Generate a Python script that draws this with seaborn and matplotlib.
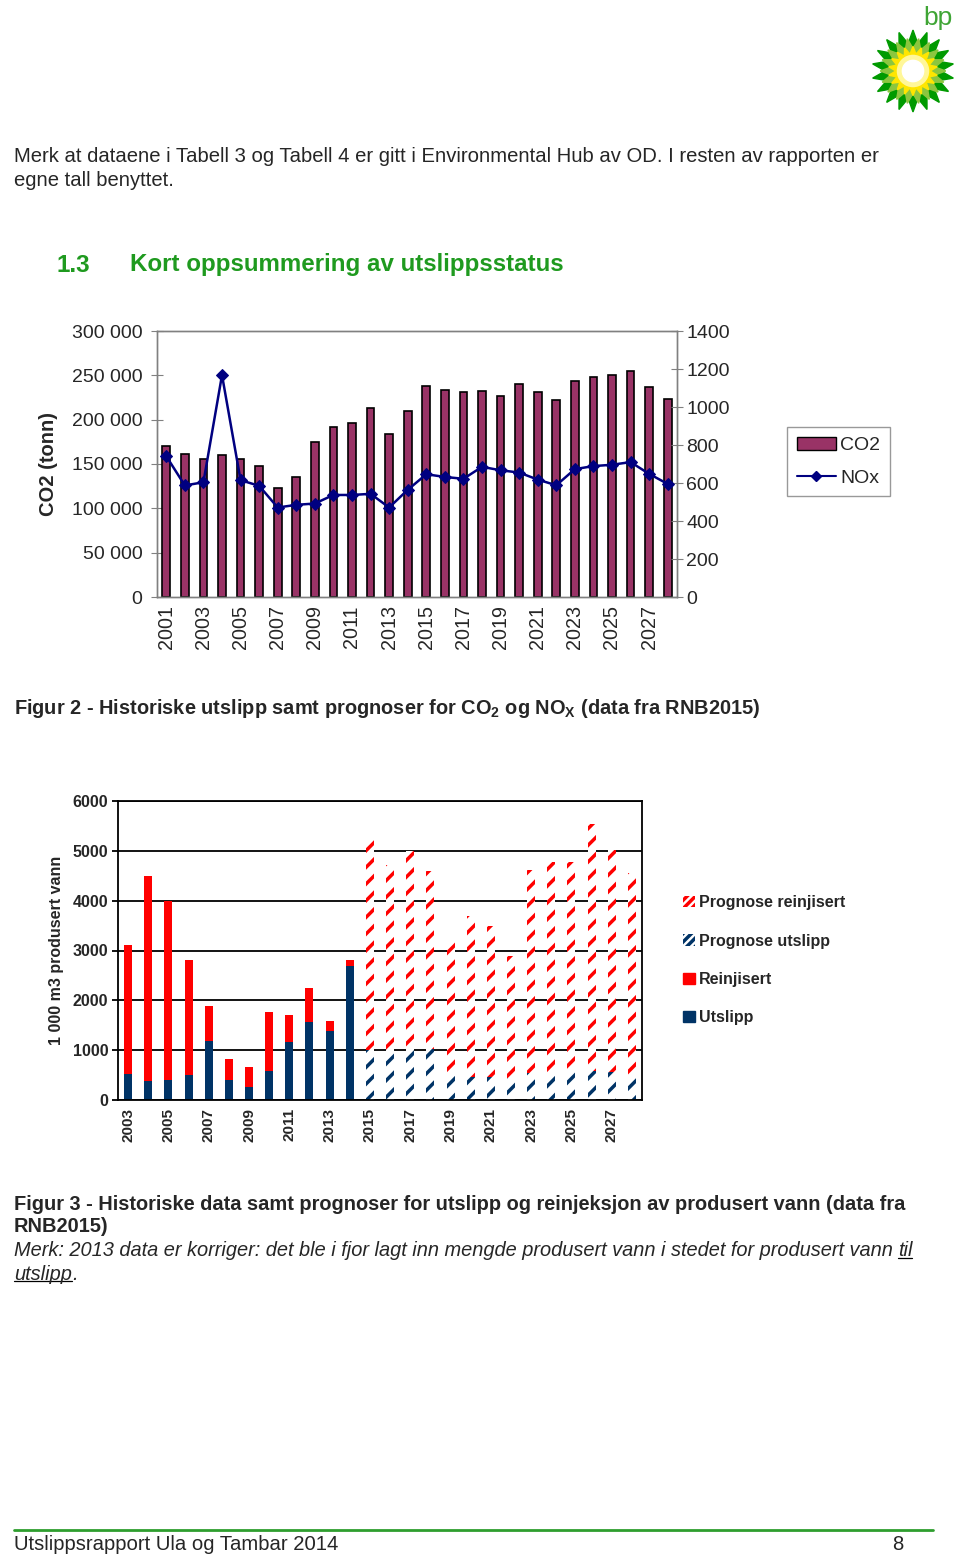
import numpy as np
import pandas as pd
import matplotlib
matplotlib.use("Agg")
import matplotlib.pyplot as plt
import seaborn as sns
from matplotlib.patches import Patch, Polygon, Circle
from matplotlib.lines import Line2D
from matplotlib.ticker import FuncFormatter, FixedLocator

sns.set_style("white")
plt.rcParams['font.family'] = ['Liberation Sans', 'DejaVu Sans']
plt.rcParams['mathtext.fontset'] = 'custom'
plt.rcParams['mathtext.rm'] = 'Liberation Sans'
plt.rcParams['mathtext.bf'] = 'Liberation Sans:bold'
plt.rcParams['hatch.linewidth'] = 2.5

# Figur 2 - CO2 og NOx
co2_years = list(range(2001, 2029))
co2_tonn = [170500, 161500, 155800, 160000, 156200, 147200, 123400, 135900, 174300, 191600,
            196100, 212600, 183700, 210000, 237500, 233000, 231100, 231800, 227000, 240100,
            230700, 221700, 243900, 248000, 250700, 254400, 237100, 223600]
nox_tonn = [741, 587, 604, 1168, 615, 585, 471, 485, 492, 537, 537, 543, 471, 564,
            646, 632, 622, 685, 667, 655, 618, 588, 673, 689, 696, 710, 648, 595]

# Figur 3 - produsert vann (1 000 m3)
vann_years = list(range(2003, 2029))
hist_years = list(range(2003, 2015))
prog_years = list(range(2015, 2029))
utslipp = [517, 383, 403, 497, 1188, 403, 262, 591, 1168, 1557, 1389, 2685]
reinjisert = [2597, 4107, 3597, 2315, 705, 429, 409, 1167, 543, 698, 188, 127]
prognose_utslipp = [1007, 960, 1040, 1020, 497, 470, 456, 436, 550, 570, 570, 584, 564, 497]
prognose_reinjisert = [4214, 3751, 3960, 3577, 2738, 3228, 3034, 2450, 4074, 4209, 4202, 4953, 4456, 4053]

GREEN = '#1f9a1f'
MAROON = '#993366'
NAVY = '#000080'
RED = '#FF0000'
DBLUE = '#003366'

W, H = 960, 1555
fig = plt.figure(figsize=(W / 100, H / 100), dpi=100)


def fx(px):
    return px / W


def fy(py):
    return 1 - py / H


# %% page text
fig.text(fx(14), fy(157), "Merk at dataene i Tabell 3 og Tabell 4 er gitt i Environmental Hub av OD. I resten av rapporten er",
         fontsize=14.6, va='center')
fig.text(fx(14), fy(181), "egne tall benyttet.", fontsize=14.6, va='center')
fig.text(fx(57), fy(265), "1.3", fontsize=17.5, fontweight='bold', color=GREEN, va='center')
fig.text(fx(130), fy(265), "Kort oppsummering av utslippsstatus", fontsize=17.4, fontweight='bold',
         color=GREEN, va='center')

# %% chart 1
ax1 = fig.add_axes([fx(157), fy(597), fx(677) - fx(157), fy(331) - fy(597)])
df1 = pd.DataFrame({'year': [str(y) for y in co2_years], 'co2': co2_tonn, 'nox': nox_tonn})
sns.barplot(data=df1, x='year', y='co2', color=MAROON, saturation=1, width=0.42,
            errorbar=None, ax=ax1)
for p in ax1.patches:
    p.set_edgecolor('black')
    p.set_linewidth(1.2)
n1 = len(co2_years)
ax1.set_xlim(-0.5, n1 - 0.5)
ax1.set_ylim(0, 300000)
ax1.set_yticks(range(0, 300001, 50000))
ax1.yaxis.set_major_formatter(FuncFormatter(lambda v, p: f"{int(v):,}".replace(",", " ")))
ax1.set_xticks(range(0, n1, 2))
ax1.set_xticklabels([str(y) for y in co2_years[::2]], rotation=90, fontsize=14.2)
ax1.xaxis.set_minor_locator(FixedLocator(np.arange(-0.5, n1, 1)))
ax1.tick_params(axis='x', which='major', length=0, pad=6)
ax1.tick_params(axis='x', which='minor', length=5, direction='out', color='#808080', width=1)
ax1.tick_params(axis='y', which='major', length=9, direction='inout', color='#808080', labelsize=14, pad=6)
ax1.set_xlabel('')
ax1.set_ylabel('CO2 (tonn)', fontsize=14.5, fontweight='bold')
ax1.yaxis.set_label_coords((58 - 157) / 520, 0.5)
for s in ax1.spines.values():
    s.set_color('#808080')
    s.set_linewidth(1)

ax1b = ax1.twinx()
sns.lineplot(x=np.arange(n1), y=nox_tonn, ax=ax1b, color=NAVY, marker='D', markersize=6,
             markeredgecolor=NAVY, linewidth=1.8)
ax1b.set_ylim(0, 1400)
ax1b.set_yticks(range(0, 1401, 200))
ax1b.tick_params(axis='y', length=9, direction='inout', color='#808080', labelsize=14, pad=2)
ax1b.set_ylabel('')
for s in ax1b.spines.values():
    s.set_color('#808080')
    s.set_linewidth(1)
ax1b.set_xlim(-0.5, n1 - 0.5)

leg1 = fig.legend(handles=[Patch(facecolor=MAROON, edgecolor='black', label='CO2'),
                           Line2D([], [], color=NAVY, marker='D', markersize=5, lw=1.5, label='NOx')],
                  loc='upper left', bbox_to_anchor=(fx(787), fy(427)), borderaxespad=0,
                  frameon=True, fancybox=False, edgecolor='#808080', fontsize=14,
                  handlelength=2.0, handletextpad=0.25, borderpad=0.5, labelspacing=0.75)
leg1.get_frame().set_linewidth(1)

fig.text(fx(14), fy(709), r"Figur 2 - Historiske utslipp samt prognoser for CO$_\mathbf{2}$ og NO$_\mathbf{X}$ (data fra RNB2015)",
         fontsize=14.4, fontweight='bold', va='center')

# %% chart 2
ax2 = fig.add_axes([fx(118), fy(1100), fx(642) - fx(118), fy(801) - fy(1100)])
order = [str(y) for y in vann_years]
hist_total = np.array(utslipp) + np.array(reinjisert)
prog_total = np.array(prognose_utslipp) + np.array(prognose_reinjisert)

layers = [
    (hist_years, hist_total, RED, RED, None),
    (hist_years, utslipp, DBLUE, DBLUE, None),
    (prog_years, prog_total, 'white', RED, '//'),
    (prog_years, prognose_utslipp, 'white', DBLUE, '//'),
]
for yrs, vals, face, edge, hatch in layers:
    start = len(ax2.patches)
    sns.barplot(x=[str(y) for y in yrs], y=vals, order=order, color=RED, saturation=1,
                width=0.4, errorbar=None, ax=ax2)
    for p in ax2.patches[start:]:
        p.set_facecolor(face)
        p.set_edgecolor(edge)
        p.set_linewidth(0)
        if hatch:
            p.set_hatch(hatch)

n2 = len(vann_years)
ax2.set_xlim(-0.5, n2 - 0.5)
ax2.set_ylim(0, 6000)
ax2.set_yticks(range(0, 6001, 1000))
ax2.set_axisbelow(True)
ax2.yaxis.grid(True, color='black', linewidth=1.3)
ax2.set_xticks(range(0, n2, 2))
ax2.set_xticklabels(order[::2], rotation=90, fontsize=11, fontweight='bold')
ax2.xaxis.set_minor_locator(FixedLocator(np.arange(-0.5, n2, 1)))
ax2.tick_params(axis='x', which='major', length=0, pad=6)
ax2.tick_params(axis='x', which='minor', length=5, direction='out', color='black', width=1.3)
ax2.tick_params(axis='y', length=4, direction='out', color='black', width=1.3, labelsize=11.5, pad=3, left=True)
for lab in ax2.get_yticklabels():
    lab.set_fontweight('bold')
ax2.set_xlabel('')
ax2.set_ylabel('1 000 m3 produsert vann', fontsize=11.5, fontweight='bold')
ax2.yaxis.set_label_coords((64 - 118) / 524, 0.5)
for s in ax2.spines.values():
    s.set_color('black')
    s.set_linewidth(1.3)

leg2 = fig.legend(handles=[Patch(facecolor='white', edgecolor=RED, hatch='////', lw=0, label='Prognose reinjisert'),
                           Patch(facecolor='white', edgecolor=DBLUE, hatch='////', lw=0, label='Prognose utslipp'),
                           Patch(facecolor=RED, edgecolor=RED, label='Reinjisert'),
                           Patch(facecolor=DBLUE, edgecolor=DBLUE, label='Utslipp')],
                  loc='upper left', bbox_to_anchor=(fx(677), fy(889)), borderaxespad=0, frameon=False,
                  prop={'weight': 'bold', 'size': 11.5}, handlelength=0.7, handleheight=0.7,
                  handletextpad=0.3, labelspacing=1.45)

fig.text(fx(14), fy(1204), "Figur 3 - Historiske data samt prognoser for utslipp og reinjeksjon av produsert vann (data fra",
         fontsize=14.4, fontweight='bold', va='center')
fig.text(fx(14), fy(1227), "RNB2015)", fontsize=14.4, fontweight='bold', va='center')

note1 = fig.text(fx(14), fy(1251), "Merk: 2013 data er korriger: det ble i fjor lagt inn mengde produsert vann i stedet for produsert vann",
                 fontsize=14.4, style='italic', va='center')
fig.canvas.draw()
renderer = fig.canvas.get_renderer()
bb = note1.get_window_extent(renderer=renderer)
til = fig.text((bb.x1 + 5) / W, fy(1251), "til", fontsize=14.4, style='italic', va='center')
utsl = fig.text(fx(14), fy(1274), "utslipp", fontsize=14.4, style='italic', va='center')
bb_u = utsl.get_window_extent(renderer=renderer)
fig.text((bb_u.x1) / W, fy(1274), ".", fontsize=14.4, style='italic', va='center')
bb_t = til.get_window_extent(renderer=renderer)
for b in [bb_t, bb_u]:
    yline = b.y0 + 3
    fig.add_artist(Line2D([b.x0 / W, b.x1 / W], [yline / H, yline / H], transform=fig.transFigure,
                          color='black', lw=0.9))

# %% footer
fig.add_artist(Line2D([fx(14), fx(933)], [fy(1530), fy(1530)], transform=fig.transFigure,
                      color='#2e9e2e', lw=2))
fig.text(fx(14), fy(1544), "Utslippsrapport Ula og Tambar 2014", fontsize=14.6, va='center')
fig.text(fx(898), fy(1544), "8", fontsize=14.6, va='center', ha='center')

# %% bp logo
fig.text(fx(938), fy(18), "bp", fontsize=19, color='#3fa535', ha='center', va='center')
axl = fig.add_axes([fx(870), fy(114), 86 / W, 86 / H])
axl.set_xlim(-1.05, 1.05)
axl.set_ylim(-1.05, 1.05)
axl.axis('off')


def star(n, r_out, r_in, rot):
    ang = np.linspace(0, 2 * np.pi, 2 * n, endpoint=False) + rot
    r = np.where(np.arange(2 * n) % 2 == 0, r_out, r_in)
    return np.column_stack([r * np.cos(ang), r * np.sin(ang)])


step = np.pi / 18
axl.add_patch(Polygon(star(18, 1.0, 0.68, np.pi / 2), closed=True, color='#009a00'))
axl.add_patch(Polygon(star(18, 0.8, 0.55, np.pi / 2 + step), closed=True, color='#8cc63f'))
axl.add_patch(Polygon(star(18, 0.6, 0.42, np.pi / 2), closed=True, color='#ffe600'))
axl.add_patch(Circle((0, 0), 0.38, color='#fff799'))
axl.add_patch(Circle((0, 0), 0.26, color='white'))

fig.savefig("out.png", dpi=100)
